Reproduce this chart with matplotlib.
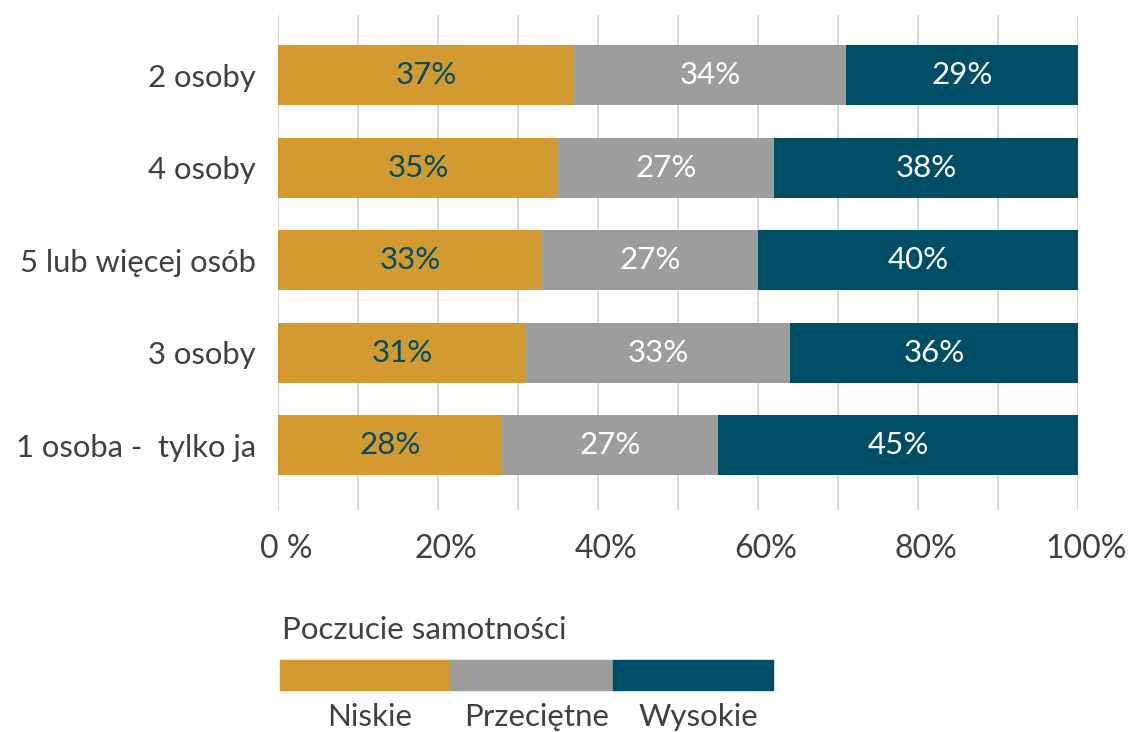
import matplotlib.pyplot as plt
from matplotlib.patches import Rectangle
from matplotlib.transforms import ScaledTranslation
import numpy as np

plt.rcParams['font.family'] = ['Lato', 'DejaVu Sans']

categories = ['2 osoby', '4 osoby', '5 lub więcej osób', '3 osoby', '1 osoba -  tylko ja']
niskie = [37, 35, 33, 31, 28]
przecietne = [34, 27, 27, 33, 27]
wysokie = [29, 38, 40, 36, 45]
series_names = ['Niskie', 'Przeciętne', 'Wysokie']
legend_title = 'Poczucie samotności'
tick_vals = [0, 20, 40, 60, 80, 100]
tick_labels = ['0 %', '20%', '40%', '60%', '80%', '100%']

yellow = '#D39A2F'
grey = '#9D9D9B'
navy = '#004D66'
txt = '#404040'

W, H = 1129, 732
fig = plt.figure(figsize=(W / 100, H / 100), dpi=100)
ax = fig.add_axes([278 / W, 1 - 510 / H, 800 / W, 495 / H])

y = np.arange(len(categories))
left = np.zeros(len(categories))
for vals, col, lab_col in [(niskie, yellow, navy), (przecietne, grey, 'white'), (wysokie, navy, 'white')]:
    vals = np.array(vals, dtype=float)
    ax.barh(y, vals, left=left, height=0.65, color=col, zorder=3)
    for yi, l, v in zip(y, left, vals):
        ax.text(l + v / 2, yi, f'{v:.0f}%', ha='center', va='center',
                color=lab_col, fontsize=22.5, zorder=4)
    left += vals

ax.set_xlim(0, 100)
ax.set_ylim(4.7, -0.65)
ax.set_xticks(np.arange(0, 101, 10), minor=True)
ax.set_xticks(tick_vals)
ax.set_xticklabels(tick_labels, fontsize=23, color=txt)
ax.set_yticks(y)
ax.set_yticklabels(categories, fontsize=22.3, color=txt)
ax.tick_params(which='both', length=0)
ax.tick_params(axis='y', pad=16)
ax.tick_params(axis='x', pad=17)
shift = ScaledTranslation(8 / 100, 0, fig.dpi_scale_trans)
for lbl in ax.get_xticklabels():
    lbl.set_transform(lbl.get_transform() + shift)
ax.grid(axis='x', which='both', color='#D9D9D9', linewidth=1.5, zorder=0)
for s in ax.spines.values():
    s.set_visible(False)

# legend drawn below the chart
fig.text(282 / W, 1 - 630 / H, legend_title, fontsize=22.5, color=txt, va='center', ha='left')
edges = [280, 450, 613, 773]
for i, (name, col) in enumerate(zip(series_names, [yellow, grey, navy])):
    x0, x1 = edges[i], edges[i + 1]
    fig.patches.append(Rectangle((x0 / W, 1 - 690 / H), (x1 - x0) / W, 30 / H,
                                 transform=fig.transFigure, color=col))
    fig.text((x0 + x1) / 2 / W + 5 / W, 1 - 717 / H, name, fontsize=22.5, color=txt,
             ha='center', va='center')

fig.savefig('out.png', dpi=100)
